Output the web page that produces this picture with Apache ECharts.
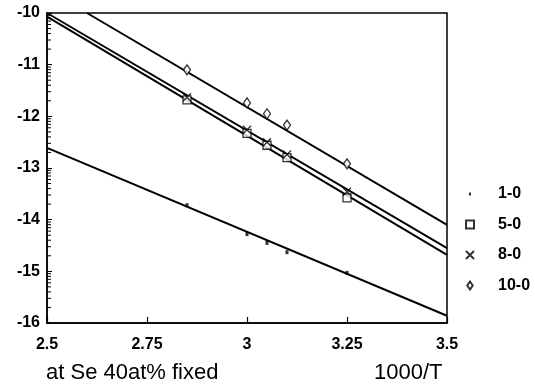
<!DOCTYPE html>
<html>
<head>
<meta charset="utf-8">
<script src="https://cdn.jsdelivr.net/npm/echarts@6/dist/echarts.min.js"></script>
<style>html,body{margin:0;padding:0;background:#fff}#c{width:535px;height:387px}</style>
</head>
<body>
<div id="c"></div>
<script>
// ---- data ----
var xTicks = [2.5, 2.75, 3, 3.25, 3.5];
var yTicks = [-16, -15, -14, -13, -12, -11, -10];
var seriesNames = ['1-0', '5-0', '8-0', '10-0'];

var pts10 = [[2.85, -13.72], [3.0, -14.28], [3.05, -14.45], [3.1, -14.63], [3.25, -15.03]];
var pts50 = [[2.85, -11.68], [3.0, -12.33], [3.05, -12.56], [3.1, -12.80], [3.25, -13.58]];
var pts80 = [[2.85, -11.63], [3.0, -12.26], [3.05, -12.50], [3.1, -12.74], [3.25, -13.46]];
var pts100 = [[2.85, -11.10], [3.0, -11.74], [3.05, -11.95], [3.1, -12.17], [3.25, -12.92]];

// fitted straight lines (end points)
var fit10 = [[2.5, -12.61], [3.5, -15.86]];
var fit50 = [[2.5, -10.07], [3.5, -14.68]];
var fit80 = [[2.5, -10.0], [3.5, -14.55]];
var fit100 = [[2.6, -10.0], [3.5, -14.10]];

// log-style minor tick offsets inside each unit decade
var yDecades = [-16, -15, -14, -13, -12, -11];
var logMinorOffsets = [0.301, 0.477, 0.602, 0.699, 0.778, 0.845, 0.903, 0.954];

var minorData = [];
yDecades.forEach(function (d) {
  logMinorOffsets.forEach(function (o) { minorData.push([xTicks[0], d + o]); });
});

var font = 'Liberation Sans, Arial, sans-serif';
var crossPath = 'path://M0,0L10,10M10,0L0,10';
var legendIcons = {
  '1-0': 'path://M0,0M4,3.5h2v3h-2zM10,10',
  '5-0': 'path://M0,0M1,1h8v8h-8zM10,10',
  '8-0': 'path://M0,0M1,1L9,9M9,1L1,9M10,10',
  '10-0': 'path://M0,0M5,1L7.75,5L5,9L2.25,5ZM10,10'
};

function fitSeries(d) {
  return {
    type: 'line', data: d, symbol: 'none', silent: true,
    lineStyle: { color: '#000', width: 2 }, z: 2
  };
}

var chart = echarts.init(document.getElementById('c'));
chart.setOption({
  backgroundColor: '#fff',
  animation: false,
  title: [
    { text: 'at Se 40at% fixed', left: 41, top: 357,
      textStyle: { fontFamily: font, fontSize: 22, fontWeight: 'normal', color: '#000' } },
    { text: '1000/T', left: 369, top: 357,
      textStyle: { fontFamily: font, fontSize: 22, fontWeight: 'normal', color: '#000' } }
  ],
  grid: { left: 47, right: 88, top: 13, bottom: 64, show: true, borderColor: '#000', borderWidth: 1.5, backgroundColor: 'transparent' },
  legend: {
    orient: 'vertical', left: 459, top: 181, padding: 5,
    itemWidth: 10, itemHeight: 10, itemGap: 14.5,
    data: seriesNames.map(function (n) { return { name: n, icon: legendIcons[n] }; }),
    textStyle: { fontFamily: font, fontSize: 16, lineHeight: 16, fontWeight: 'bold', color: '#000', padding: [0, 0, 0, 18] }
  },
  xAxis: {
    type: 'value', min: 2.5, max: 3.5, interval: 0.25,
    axisLine: { lineStyle: { color: '#000', width: 1.5 } },
    axisTick: { inside: true, length: 6, lineStyle: { color: '#000', width: 1.2 } },
    splitLine: { show: false },
    axisLabel: {
      margin: 14, color: '#000', fontFamily: font, fontSize: 16, fontWeight: 'bold',
      formatter: function (v) { return String(v); }
    }
  },
  yAxis: {
    type: 'value', min: -16, max: -10, interval: 1,
    axisLine: { lineStyle: { color: '#000', width: 1.5 } },
    axisTick: { inside: true, length: 5, lineStyle: { color: '#000', width: 1 } },
    splitLine: { show: false },
    axisLabel: { margin: 7, color: '#000', fontFamily: font, fontSize: 16, fontWeight: 'bold' }
  },
  series: [
    fitSeries(fit10), fitSeries(fit50), fitSeries(fit80), fitSeries(fit100),
    {
      type: 'custom', silent: true, data: minorData, z: 3,
      renderItem: function (params, api) {
        var p = api.coord([api.value(0), api.value(1)]);
        return { type: 'line', shape: { x1: p[0], y1: p[1], x2: p[0] + 4, y2: p[1] },
          style: { stroke: '#000', lineWidth: 1 } };
      }
    },
    { name: '1-0', type: 'scatter', data: pts10, symbol: 'rect', symbolSize: [3, 4], z: 5,
      itemStyle: { color: '#000' } },
    { name: '5-0', type: 'scatter', data: pts50, symbol: 'rect', symbolSize: 8, z: 5,
      itemStyle: { color: '#fff', borderColor: '#000', borderWidth: 1.3 } },
    { name: '8-0', type: 'scatter', data: pts80, symbol: crossPath, symbolSize: 8, z: 6,
      itemStyle: { color: 'rgba(0,0,0,0)', borderColor: '#000', borderWidth: 1.3 } },
    { name: '10-0', type: 'scatter', data: pts100, symbol: 'diamond', symbolSize: [7, 10], z: 5,
      itemStyle: { color: '#fff', borderColor: '#000', borderWidth: 1.3 } }
  ]
});
</script>
</body>
</html>
